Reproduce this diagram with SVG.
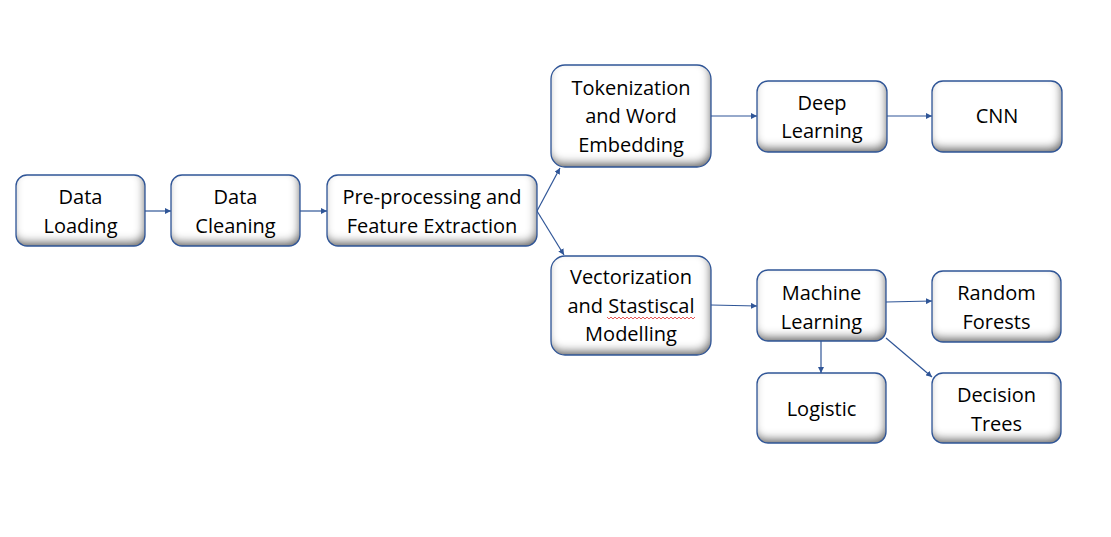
<svg xmlns="http://www.w3.org/2000/svg" width="1111" height="537" viewBox="0 0 1111 537">
<style>
.box{fill:#ffffff;filter:url(#bevel)}
.edge{fill:none;stroke:#2F5597;stroke-width:1.3}
text{font-family:"Open Sans","Noto Sans",sans-serif;font-size:20px;fill:#000;text-anchor:middle;dominant-baseline:central}
.con line{stroke:#2F5597;stroke-width:1.2;marker-end:url(#arr)}
</style>
<defs>
<marker id="arr" viewBox="0 0 10 10" refX="10" refY="5" markerWidth="6" markerHeight="6" markerUnits="userSpaceOnUse" orient="auto">
<path d="M0,0 L10,5 L0,10 z" fill="#2F5597"/>
</marker>
<filter id="bevel" x="-10%" y="-15%" width="120%" height="130%">
<feGaussianBlur in="SourceAlpha" stdDeviation="4" result="b"/>
<feOffset in="b" dx="-2" dy="-5" result="o"/>
<feComposite in="SourceAlpha" in2="o" operator="out" result="inner"/>
<feFlood flood-color="#3a3a3a" flood-opacity="0.9"/>
<feComposite in2="inner" operator="in" result="sh"/>
<feMerge><feMergeNode in="SourceGraphic"/><feMergeNode in="sh"/></feMerge>
</filter>
</defs>
<rect width="1111" height="537" fill="#ffffff"/>
<g class="con" id="connectors">
<line x1="145" y1="211" x2="171" y2="211"/>
<line x1="300" y1="211" x2="327" y2="211"/>
<line x1="537" y1="211" x2="560" y2="168"/>
<line x1="537" y1="211" x2="564" y2="255"/>
<line x1="711" y1="116" x2="757" y2="116"/>
<line x1="887" y1="116" x2="932" y2="116"/>
<line x1="711" y1="305" x2="757" y2="306"/>
<line x1="886" y1="302" x2="932" y2="301"/>
<line x1="821" y1="341" x2="821" y2="373"/>
<line x1="886" y1="338" x2="932" y2="377"/>
</g>
<g id="data-loading"><rect class="box" x="16" y="175" width="129" height="71" rx="11"/><rect class="edge" x="16" y="175" width="129" height="71" rx="11"/><text x="80.5" y="196">Data</text><text x="80.5" y="225">Loading</text></g>
<g id="data-cleaning"><rect class="box" x="171" y="175" width="129" height="71" rx="11"/><rect class="edge" x="171" y="175" width="129" height="71" rx="11"/><text x="235.5" y="196">Data</text><text x="235.5" y="225">Cleaning</text></g>
<g id="preprocessing"><rect class="box" x="327" y="175" width="210" height="71" rx="11"/><rect class="edge" x="327" y="175" width="210" height="71" rx="11"/><text x="432" y="196">Pre-processing and</text><text x="432" y="225">Feature Extraction</text></g>
<g id="tokenization"><rect class="box" x="551" y="65" width="160" height="102" rx="14"/><rect class="edge" x="551" y="65" width="160" height="102" rx="14"/><text x="631" y="87">Tokenization</text><text x="631" y="115">and Word</text><text x="631" y="144">Embedding</text></g>
<g id="vectorization"><rect class="box" x="551" y="256" width="160" height="99" rx="14"/><rect class="edge" x="551" y="256" width="160" height="99" rx="14"/><text x="631" y="276">Vectorization</text><text x="631" y="305">and Stastiscal</text><text x="631" y="333">Modelling</text><path d="M607,317 l2,2 l2,-2 l2,2 l2,-2 l2,2 l2,-2 l2,2 l2,-2 l2,2 l2,-2 l2,2 l2,-2 l2,2 l2,-2 l2,2 l2,-2 l2,2 l2,-2 l2,2 l2,-2 l2,2 l2,-2 l2,2 l2,-2 l2,2 l2,-2 l2,2 l2,-2 l2,2 l2,-2 l2,2 l2,-2 l2,2 l2,-2 l2,2 l2,-2 l2,2 l2,-2 l2,2 l2,-2 l2,2 l2,-2 l2,2 l2,-2" fill="none" stroke="#e03030" stroke-width="0.8"/></g>
<g id="deep-learning"><rect class="box" x="757" y="81" width="130" height="71" rx="11"/><rect class="edge" x="757" y="81" width="130" height="71" rx="11"/><text x="822" y="102">Deep</text><text x="822" y="130">Learning</text></g>
<g id="cnn"><rect class="box" x="932" y="81" width="130" height="71" rx="11"/><rect class="edge" x="932" y="81" width="130" height="71" rx="11"/><text x="997" y="115">CNN</text></g>
<g id="machine-learning"><rect class="box" x="757" y="270" width="129" height="71" rx="11"/><rect class="edge" x="757" y="270" width="129" height="71" rx="11"/><text x="821.5" y="292">Machine</text><text x="821.5" y="321">Learning</text></g>
<g id="random-forests"><rect class="box" x="932" y="271" width="129" height="71" rx="11"/><rect class="edge" x="932" y="271" width="129" height="71" rx="11"/><text x="996.5" y="292">Random</text><text x="996.5" y="321">Forests</text></g>
<g id="logistic"><rect class="box" x="757" y="373" width="129" height="70" rx="11"/><rect class="edge" x="757" y="373" width="129" height="70" rx="11"/><text x="821.5" y="408">Logistic</text></g>
<g id="decision-trees"><rect class="box" x="932" y="373" width="129" height="70" rx="11"/><rect class="edge" x="932" y="373" width="129" height="70" rx="11"/><text x="996.5" y="394">Decision</text><text x="996.5" y="423">Trees</text></g>
</svg>
